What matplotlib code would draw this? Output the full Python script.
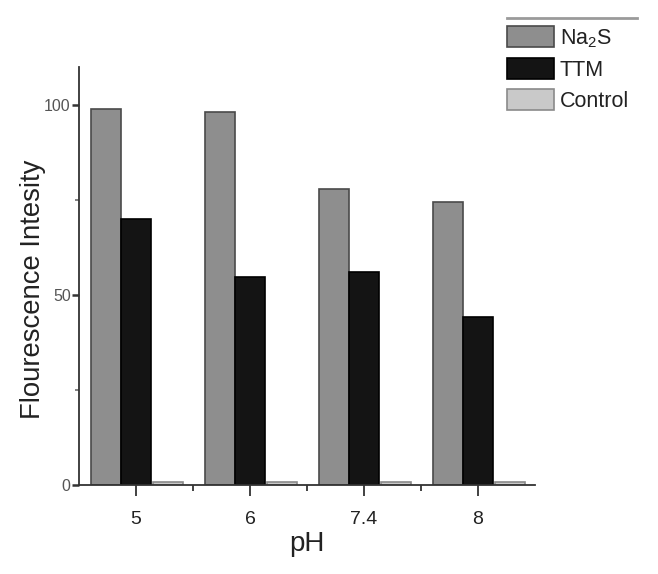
import matplotlib
matplotlib.use("Agg")
import matplotlib.pyplot as plt
import numpy as np
from matplotlib.lines import Line2D
from matplotlib.patches import Patch

plt.rcParams['font.family'] = ['Liberation Sans', 'DejaVu Sans']
plt.rcParams['mathtext.default'] = 'regular'

categories = ['5', '6', '7.4', '8']
series_names = ['Na$_2$S', 'TTM', 'Control']
na2s = [98.9, 98.2, 77.9, 74.5]
ttm = [70.0, 54.7, 56.0, 44.2]
control = [0.9, 0.9, 0.9, 0.9]
y_ticks = [0, 50, 100]

colors = ['#8e8e8e', '#141414', '#c9c9c9']
edges = ['#4a4a4a', '#000000', '#8a8a8a']
offsets = [-0.265, 0.0, 0.28]
width = 0.262

fig = plt.figure(figsize=(6.58, 5.74), dpi=100)
ax = fig.add_axes([79/658, 1-485/574, (535-79)/658, (485-67)/574])

x = np.arange(len(categories))
for vals, off, c, e in zip([na2s, ttm, control], offsets, colors, edges):
    ax.bar(x + off, vals, width=width, color=c, edgecolor=e, linewidth=1.2)

ax.set_xlim(-0.5, 3.5)
ax.set_ylim(0, 110)
ax.set_xticks(x)
ax.set_xticklabels(categories, fontsize=14, color='#222222')
ax.set_xticks(x[:-1] + 0.5, minor=True)
ax.set_yticks(y_ticks)
ax.set_yticklabels([str(t) for t in y_ticks], fontsize=11.5, color='#555555')
ax.set_yticks([25, 75], minor=True)

for s in ['top', 'right']:
    ax.spines[s].set_visible(False)
for s in ['left', 'bottom']:
    ax.spines[s].set_color('#333333')
    ax.spines[s].set_linewidth(1.3)

ax.tick_params(axis='x', which='major', direction='out', length=8, width=1.3, color='#333333', pad=11)
ax.tick_params(axis='x', which='minor', direction='out', length=4, width=1.3, color='#333333')
ax.tick_params(axis='y', which='major', direction='out', length=5, width=1.8, color='#333333', pad=1)
ax.tick_params(axis='y', which='minor', direction='out', length=3, width=1.3, color='#777777')

ax.set_ylabel('Flourescence Intesity', fontsize=19.8, color='#222222')
ax.yaxis.set_label_coords(-0.072, 0.467)
ax.set_xlabel('pH', fontsize=20, labelpad=2, color='#222222')

handles = [Patch(facecolor=c, edgecolor=e, linewidth=1.2) for c, e in zip(colors, edges)]
fig.legend(handles, series_names, loc='upper left', bbox_to_anchor=(507/658, 1-26/574),
           frameon=False, fontsize=15.5, handlelength=2.2, handleheight=1.15,
           labelspacing=0.38, handletextpad=0.25, borderaxespad=0, borderpad=0,
           labelcolor='#222222')

fig.add_artist(Line2D([507/658, 637/658], [1-18/574, 1-18/574], color='#9a9a9a', lw=2))

fig.savefig('out.png', dpi=100)
